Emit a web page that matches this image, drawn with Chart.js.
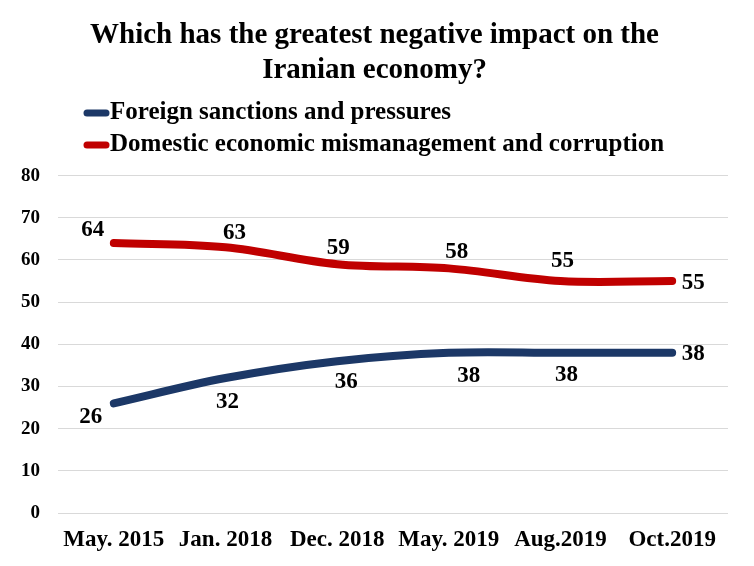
<!DOCTYPE html>
<html>
<head>
<meta charset="utf-8">
<script src="https://cdn.jsdelivr.net/npm/chart.js"></script>
<style>
  html, body { margin: 0; padding: 0; background: #fff; }
  #wrap { width: 754px; height: 566px; }
</style>
</head>
<body>
<div id="wrap"><canvas id="chart" width="754" height="566"></canvas></div>
<script>
// Data
var categories = ['May. 2015', 'Jan. 2018', 'Dec. 2018', 'May. 2019', 'Aug.2019', 'Oct.2019'];
var foreignSanctions = [26, 32, 36, 38, 38, 38];
var domesticMismanagement = [64, 63, 59, 58, 55, 55];
var yTicks = [0, 10, 20, 30, 40, 50, 60, 70, 80];

var serif = "'Liberation Serif', 'Times New Roman', serif";

// label offsets (px) relative to each point
var labelOffsets = [
    [[-23, 14], [2, 24], [9, 21], [20, 23], [6, 22], [21, 1]],
    [[-21, -13], [9, -14], [1, -16], [8, -16], [2, -20], [21, 2]]
];

// Custom legend: short thick line + bold text, left aligned under the title
var legendPlugin = {
    id: 'customLegend',
    afterDraw: function(chart) {
        var ctx = chart.ctx;
        var rows = [113, 145];
        ctx.save();
        chart.data.datasets.forEach(function(ds, i) {
            var y = rows[i];
            ctx.strokeStyle = ds.borderColor;
            ctx.lineWidth = 7;
            ctx.lineCap = 'round';
            ctx.beginPath();
            ctx.moveTo(87, y);
            ctx.lineTo(106, y);
            ctx.stroke();
            ctx.fillStyle = '#000';
            ctx.font = 'bold 25px ' + serif;
            ctx.textAlign = 'left';
            ctx.textBaseline = 'middle';
            ctx.fillText(ds.label, 110, y);
        });
        ctx.restore();
    }
};

// Value labels next to each point
var valueLabels = {
    id: 'valueLabels',
    afterDatasetsDraw: function(chart) {
        var ctx = chart.ctx;
        ctx.save();
        ctx.font = 'bold 23px ' + serif;
        ctx.fillStyle = '#000';
        ctx.textAlign = 'center';
        ctx.textBaseline = 'middle';
        chart.data.datasets.forEach(function(ds, i) {
            chart.getDatasetMeta(i).data.forEach(function(pt, j) {
                var off = labelOffsets[i][j];
                ctx.fillText(String(ds.data[j]), pt.x + off[0], pt.y + off[1]);
            });
        });
        ctx.restore();
    }
};

new Chart(document.getElementById('chart').getContext('2d'), {
    type: 'line',
    data: {
        labels: categories,
        datasets: [{
            label: 'Foreign sanctions and pressures',
            data: foreignSanctions,
            borderColor: '#1c3867',
            backgroundColor: '#1c3867',
            borderWidth: 8,
            borderCapStyle: 'round',
            borderJoinStyle: 'round',
            tension: 0.35,
            pointRadius: 0,
            fill: false
        }, {
            label: 'Domestic economic mismanagement and corruption',
            data: domesticMismanagement,
            borderColor: '#c00000',
            backgroundColor: '#c00000',
            borderWidth: 8,
            borderCapStyle: 'round',
            borderJoinStyle: 'round',
            tension: 0.35,
            pointRadius: 0,
            fill: false
        }]
    },
    options: {
        responsive: false,
        animation: false,
        layout: { padding: { left: 3, right: 8, top: 0, bottom: -2 } },
        scales: {
            x: {
                offset: true,
                grid: { display: false, drawTicks: false },
                border: { display: false },
                afterFit: function(scale) { scale.paddingRight = 26; },
                ticks: {
                    color: '#000',
                    padding: 16,
                    maxRotation: 0,
                    autoSkip: false,
                    font: { family: serif, size: 23, weight: 'bold', lineHeight: 1.0 }
                }
            },
            y: {
                min: yTicks[0],
                max: yTicks[yTicks.length - 1],
                afterBuildTicks: function(axis) {
                    axis.ticks = yTicks.map(function(v) { return { value: v }; });
                },
                grid: { color: '#d9d9d9', lineWidth: 1, drawTicks: false },
                border: { display: false },
                ticks: {
                    color: '#000',
                    padding: 18,
                    font: { family: serif, size: 19, weight: 'bold' }
                }
            }
        },
        plugins: {
            legend: { display: false },
            tooltip: { enabled: false },
            title: {
                display: true,
                text: ['Which has the greatest negative impact on the', 'Iranian economy?'],
                color: '#000',
                font: { family: serif, size: 29, weight: 'bold', lineHeight: 1.2 },
                padding: { top: 18, bottom: 88 }
            }
        }
    },
    plugins: [legendPlugin, valueLabels]
});
</script>
</body>
</html>
